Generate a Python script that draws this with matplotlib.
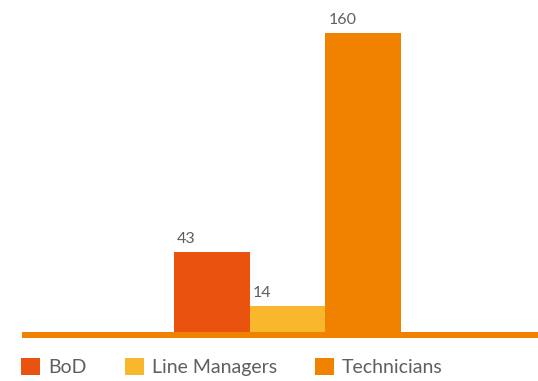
import matplotlib
matplotlib.use("Agg")
import matplotlib.pyplot as plt
from matplotlib.patches import Patch

# Headcount by staff group
categories = ["BoD", "Line Managers", "Technicians"]
values = [43, 14, 160]
colors = ["#E9530F", "#F9B72D", "#F08200"]
baseline_color = "#EF8200"
text_color = "#5f5f5f"

plt.rcParams["font.family"] = ["Lato", "DejaVu Sans"]

W, H = 538, 381
fig = plt.figure(figsize=(W / 100, H / 100), dpi=100)

# axes spans from the baseline bottom (338 px from top) to the top edge
px_per_unit = 299 / 160.0
base_px = 6
ax = fig.add_axes([22 / W, (H - 338) / H, (W - 22) / W, 338 / H])
ymin = -base_px / px_per_unit
ax.set_ylim(ymin, ymin + 338 / px_per_unit)

bar_w = 75.67  # px per bar
left_units = (174 - 22) / bar_w
right_units = (W - 401) / bar_w
xs = list(range(len(values)))
ax.set_xlim(-0.5 - left_units, len(values) - 0.5 + right_units)

ax.bar(xs, values, width=1.0, color=colors, linewidth=0, zorder=2)
ax.axhspan(ymin, 0, color=baseline_color, linewidth=0, zorder=3)

for x, v in zip(xs, values):
    ax.annotate(str(v), (x - 0.5, v), xytext=(3, 6), textcoords="offset pixels",
                ha="left", va="bottom", fontsize=11.5, color=text_color)

ax.axis("off")

handles = [Patch(facecolor=c, edgecolor="none") for c in colors]
fig.legend(handles, categories, loc="center left", bbox_to_anchor=(21 / W, (H - 367) / H),
           ncol=3, frameon=False, fontsize=14, handlelength=1.0, handleheight=1.0,
           handletextpad=0.4, columnspacing=1.95, borderpad=0, borderaxespad=0,
           labelcolor=text_color)

fig.savefig("out.png", dpi=100)
